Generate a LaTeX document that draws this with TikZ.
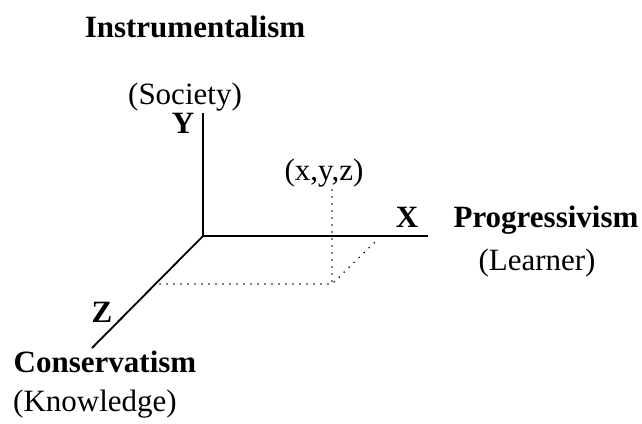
\documentclass[tikz,border=0pt]{standalone}
\usepackage{fontspec}
\setmainfont{Liberation Serif}
\begin{document}
\begin{tikzpicture}[x=1pt,y=-1pt,
  axis/.style={line width=1.8pt},
  guide/.style={line width=1.8pt,line cap=round,dash pattern=on 0pt off 7pt},
  lab/.style={inner sep=0pt,anchor=base,font=\fontsize{31}{36}\selectfont},
  blab/.style={lab,font=\fontsize{31}{36}\selectfont\bfseries}]
\useasboundingbox (0,0) rectangle (642,423);
% axes
\coordinate (O) at (203,236);
\coordinate (Ytop) at (203,113);
\coordinate (Xend) at (428,236);
\coordinate (Zend) at (92,348);
\draw[axis] (Ytop) -- (O) -- (Xend);
\draw[axis] (O) -- (Zend);
% point projections
\coordinate (P) at (332,190);
\coordinate (Pxz) at (332,284);
\coordinate (Pz) at (160,284);
\coordinate (Px) at (378,239);
\draw[guide] (P) -- (Pxz);
\draw[guide] (Pz) -- (Pxz) -- (Px);
% labels
\node[blab] (inst) at (195,37) {Instrumentalism};
\node[lab] (soc) at (185,104) {(Society)};
\node[blab] (ylab) at (183,133) {Y};
\node[blab] (xlab) at (407,227) {X};
\node[blab] (prog) at (546,227) {Progressivism};
\node[lab] (learn) at (537,270) {(Learner)};
\node[lab] (pt) at (324,180) {(x,y,z)};
\node[blab] (zlab) at (102,322) {Z};
\node[blab] (cons) at (105,372) {Conservatism};
\node[lab] (know) at (95,411) {(Knowledge)};
\end{tikzpicture}
\end{document}
